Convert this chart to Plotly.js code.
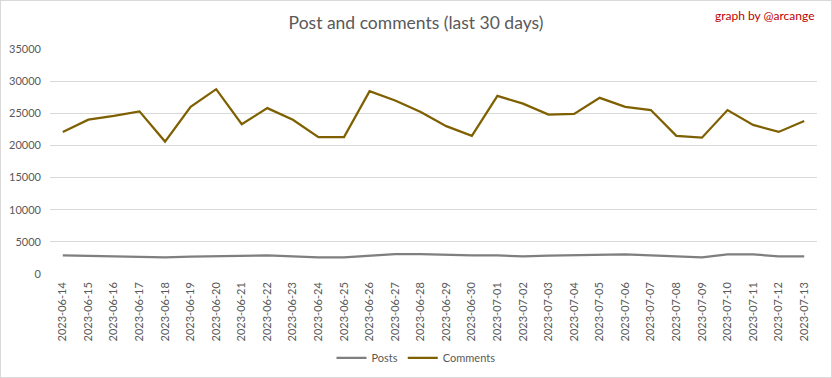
<!DOCTYPE html>
<html>
<head>
<meta charset="utf-8">
<script src="https://cdn.plot.ly/plotly-3.0.1.min.js"></script>
<style>
html,body{margin:0;padding:0;background:#fff;}
#chart{width:832px;height:378px;position:absolute;left:0;top:0;}
#frame{position:absolute;left:0;top:0;width:830px;height:376px;border:1px solid #d9d9d9;pointer-events:none;}
</style>
</head>
<body>
<div id="chart"></div>
<div id="frame"></div>
<script>
const dates = ["2023-06-14","2023-06-15","2023-06-16","2023-06-17","2023-06-18","2023-06-19","2023-06-20","2023-06-21","2023-06-22","2023-06-23","2023-06-24","2023-06-25","2023-06-26","2023-06-27","2023-06-28","2023-06-29","2023-06-30","2023-07-01","2023-07-02","2023-07-03","2023-07-04","2023-07-05","2023-07-06","2023-07-07","2023-07-08","2023-07-09","2023-07-10","2023-07-11","2023-07-12","2023-07-13"];
const posts = [2900,2800,2750,2600,2600,2700,2750,2750,2900,2750,2600,2600,2900,3100,3100,2950,2900,2900,2750,2850,2900,2900,3050,2900,2750,2600,3050,3050,2750,2750];
const comments = [22100,24000,24600,25300,20600,26000,28750,23300,25800,24000,21300,21300,28450,27000,25200,23000,21500,27700,26500,24800,24900,27400,26000,25500,21500,21200,25500,23200,22100,23800];
const yTicks = [0,5000,10000,15000,20000,25000,30000,35000];

const font = "Lato, 'Open Sans', sans-serif";
const traces = [
  {x: dates, y: posts, name: "Posts", type: "scatter", mode: "lines",
   line: {color: "#7f7f7f", width: 2.25}},
  {x: dates, y: comments, name: "Comments", type: "scatter", mode: "lines",
   line: {color: "#7f6000", width: 2.25}}
];
const layout = {
  width: 832, height: 378,
  margin: {l: 50, r: 15, t: 49, b: 104},
  paper_bgcolor: "#fff", plot_bgcolor: "#fff",
  font: {family: font, color: "#595959", size: 11},
  title: {text: "Post and comments (last 30 days)", x: 0.5, xref: "container", xanchor: "center",
          y: 0.94, yanchor: "middle", font: {family: font, size: 17.5, color: "#595959"}},
  xaxis: {type: "category", range: [-0.5, 29.5], tickangle: -90, showgrid: false, zeroline: false, showline: false,
          automargin: false, ticks: "", ticklabelstandoff: 5,
          tickfont: {size: 11, color: "#595959"}, fixedrange: true},
  yaxis: {range: [0, 35000], tickvals: yTicks, ticktext: yTicks.map(String), automargin: false,
          showgrid: true, gridcolor: "#d9d9d9", gridwidth: 1, zeroline: false, showline: false,
          ticks: "", ticklabelstandoff: 8, tickfont: {size: 11, color: "#595959"}},
  showlegend: true,
  legend: {orientation: "h", x: 0.5, xref: "container", xanchor: "center",
           y: 0.053, yref: "container", yanchor: "middle",
           font: {size: 11, color: "#595959"}, itemwidth: 30, traceorder: "normal"},
  annotations: [{text: "graph by @arcange", xref: "paper", yref: "paper", x: 1.0, y: 1.147,
                 xanchor: "right", yanchor: "middle", showarrow: false,
                 font: {family: font, size: 12, color: "#c00000"}}]
};
Plotly.newPlot("chart", traces, layout, {displayModeBar: false, staticPlot: true});
</script>
</body>
</html>
